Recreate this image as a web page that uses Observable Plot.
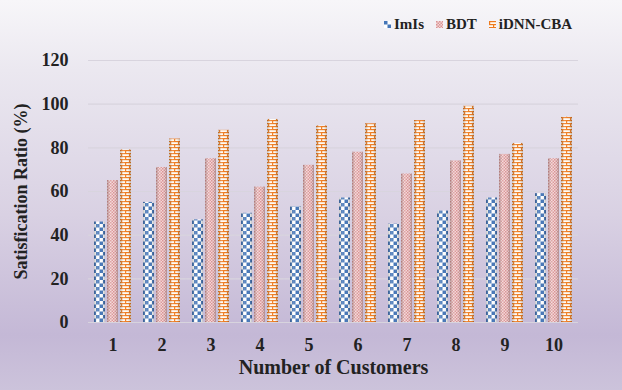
<!DOCTYPE html>
<html>
<head>
<meta charset="utf-8">
<script src="https://cdn.jsdelivr.net/npm/d3@7"></script>
<script src="https://cdn.jsdelivr.net/npm/@observablehq/plot@0.6"></script>
<style>
  html, body { margin: 0; padding: 0; }
  #wrap {
    position: relative; width: 622px; height: 390px; overflow: hidden;
    background: linear-gradient(to bottom, #f7f6f9 0%, #ebe8f0 18%, #d9d1e3 55%, #c4b8d6 86%, #ccc3db 100%);
    font-family: "Liberation Serif", "Times New Roman", serif;
  }
  #legend {
    position: absolute; top: 16px; left: 384px; display: flex; align-items: center;
    font-weight: bold; font-size: 15px; color: #222;
  }
  #legend .item { display: flex; align-items: center; margin-right: 12px; }
  #legend svg { margin-right: 3px; }
  #chart svg { background: transparent !important; }
</style>
</head>
<body>
<div id="wrap">
  <div id="chart"></div>
  <div id="legend"></div>
</div>
<script>
const customers = [1, 2, 3, 4, 5, 6, 7, 8, 9, 10];
const series = ["ImIs", "BDT", "iDNN-CBA"];
const imis = [46, 55, 47, 50, 53, 57, 45, 51, 57, 59];
const bdt  = [65, 71, 75, 62, 72, 78, 68, 74, 77, 75];
const idnn = [79, 84, 88, 93, 90, 91, 92.5, 99, 82, 94];
const yTicks = [0, 20, 40, 60, 80, 100, 120];

const patternIds = ["pImIs", "pBDT", "pIDNN"];
const values = [imis, bdt, idnn];
const table = [];
customers.forEach((c, i) => series.forEach((s, j) => table.push({customer: c, series: s, value: values[j][i]})));

const defsMarkup = `
  <pattern id="pImIs" patternUnits="userSpaceOnUse" width="7" height="7">
    <rect width="7" height="7" fill="#ffffff"/>
    <rect x="0" y="0" width="3.5" height="3.5" fill="#4576b8"/>
    <rect x="3.5" y="3.5" width="3.5" height="3.5" fill="#4576b8"/>
  </pattern>
  <pattern id="pBDT" patternUnits="userSpaceOnUse" width="3" height="3">
    <rect width="3" height="3" fill="#f3d6d6"/>
    <rect x="0" y="0" width="1.5" height="1.5" fill="#d99395"/>
    <rect x="1.5" y="1.5" width="1.5" height="1.5" fill="#d99395"/>
  </pattern>
  <pattern id="pIDNN" patternUnits="userSpaceOnUse" width="8" height="6">
    <rect width="8" height="6" fill="#fffaf3"/>
    <rect x="0" y="0" width="8" height="1.2" fill="#ee7a1e"/>
    <rect x="0" y="3" width="8" height="1.2" fill="#ee7a1e"/>
    <rect x="0" y="0" width="1.2" height="3" fill="#ee7a1e"/>
    <rect x="4" y="3" width="1.2" height="3" fill="#ee7a1e"/>
  </pattern>
  <linearGradient id="shade" x1="0" x2="1" y1="0" y2="0">
    <stop offset="0" stop-color="#000" stop-opacity="0.22"/>
    <stop offset="0.3" stop-color="#fff" stop-opacity="0.18"/>
    <stop offset="0.6" stop-color="#fff" stop-opacity="0.0"/>
    <stop offset="1" stop-color="#000" stop-opacity="0.25"/>
  </linearGradient>`;

const chart = Plot.plot({
  width: 622,
  height: 390,
  marginLeft: 88,
  marginRight: 44,
  marginTop: 60,
  marginBottom: 68,
  style: {fontFamily: "Liberation Serif, Times New Roman, serif", fontWeight: "bold", fontSize: "18px", color: "#222", background: "transparent"},
  fx: {domain: customers, paddingInner: 0.2, paddingOuter: 0.1, label: null},
  x: {domain: series, paddingInner: 0.14, paddingOuter: 0.03, axis: null},
  y: {domain: [0, 120], label: null},
  color: {domain: series, range: patternIds.map(id => `url(#${id})`)},
  marks: [
    Plot.gridY(yTicks, {stroke: "#d8d4de", strokeOpacity: 1, strokeWidth: 1.2, insetLeft: -4.95, insetRight: -4.95}),
    Plot.barY(table, {fx: "customer", x: "series", y: "value", fill: "series"}),
    Plot.barY(table, {fx: "customer", x: "series", y: "value", fill: "url(#shade)"}),
    Plot.axisY(yTicks, {tickSize: 0, tickPadding: 25, fontSize: 18, label: "Satisfication Ratio (%)", labelArrow: "none", labelAnchor: "center", labelOffset: 79}),
    Plot.axisFx({anchor: "bottom", tickSize: 0, tickPadding: 16, fontSize: 18, label: "Number of Customers", labelArrow: "none", labelAnchor: "center", labelOffset: 51})
  ]
});

d3.select(chart).insert("defs", ":first-child").html(defsMarkup);
document.getElementById("chart").appendChild(chart);
d3.select(chart).selectAll('[aria-label="fx-axis label"] text, [aria-label="fx-axis label"]').style("font-size", "20px");

// legend
const legend = d3.select("#legend");
series.forEach((s, j) => {
  const item = legend.append("div").attr("class", "item");
  const sw = item.append("svg").attr("width", 7).attr("height", 7);
  sw.append("rect").attr("width", 7).attr("height", 7).attr("fill", `url(#${patternIds[j]})`);
  item.append("span").text(s);
});
</script>
</body>
</html>
